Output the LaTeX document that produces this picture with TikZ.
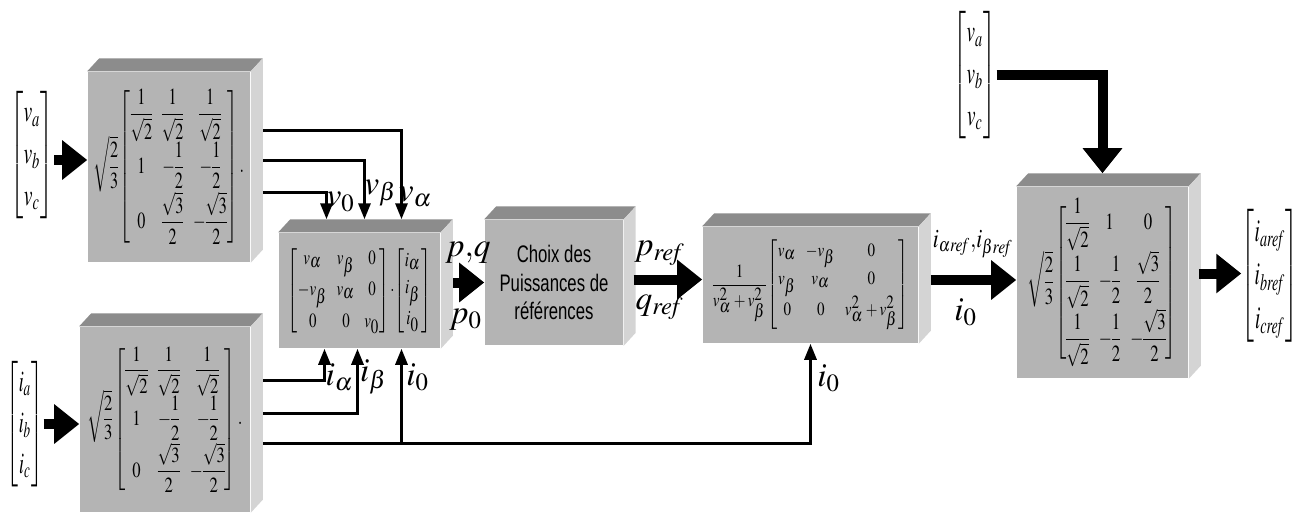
\documentclass[tikz,border=0pt]{standalone}
\usepackage{amsmath}
\usepackage{mathptmx}
\usepackage{graphicx}
\usepackage[no-math]{fontspec}
\usetikzlibrary{arrows.meta}
\newfontfamily\narrowsf[FakeStretch=0.7]{Liberation Sans}
\definecolor{boxfront}{RGB}{180,180,180}
\definecolor{boxtop}{RGB}{140,140,140}
\definecolor{boxside}{RGB}{212,212,212}

\newcommand{\clarkemat}{$\sqrt{\dfrac{2}{3}}\begin{bmatrix}\dfrac{1}{\sqrt{2}} & \dfrac{1}{\sqrt{2}} & \dfrac{1}{\sqrt{2}}\\[2.3pt] 1 & -\dfrac{1}{2} & -\dfrac{1}{2}\\[2.3pt] 0 & \dfrac{\sqrt{3}}{2} & -\dfrac{\sqrt{3}}{2}\end{bmatrix}.$}
\newcommand{\blockfaces}[1]{%
  \fill[boxtop] (#1.north west) -- ++(12,-13) -- ([shift={(12,-13)}]#1.north east) -- (#1.north east) -- cycle;
  \fill[boxside] (#1.north east) -- ([shift={(12,-13)}]#1.north east) -- ([shift={(12,-13)}]#1.south east) -- (#1.south east) -- cycle;}

\begin{document}
\begin{tikzpicture}[x=0.01cm, y=-0.01cm,
  block/.style={rectangle, fill=boxfront, inner sep=0pt, font=\fontsize{5}{6}\selectfont,
    execute at begin node={\setlength{\arraycolsep}{1.5pt}\setlength{\nulldelimiterspace}{0pt}}},
  vect/.style={inner sep=0pt, font=\fontsize{10}{12}\selectfont,
    execute at begin node={\setlength{\arraycolsep}{1.5pt}\renewcommand{\arraystretch}{1.15}}},
  lab/.style={inner sep=0pt, font=\fontsize{9.5}{11}\selectfont},
  bigarrow/.style={line width=0.1cm, -{Triangle[length=0.25cm,width=0.38cm]}},
  sigarrow/.style={line width=0.03cm, -{Triangle[length=0.16cm,width=0.12cm]}}]
\useasboundingbox (0,0) rectangle (1305,520);

\node[block, minimum width=1.62cm, minimum height=1.90cm] (clarkev) at (169,167)
  {\resizebox*{1.50cm}{1.55cm}{\clarkemat}};
\node[block, minimum width=1.70cm, minimum height=1.85cm] (clarkei) at (165,419.5)
  {\resizebox*{1.55cm}{1.45cm}{\clarkemat}};
\node[block, minimum width=1.61cm, minimum height=1.15cm] (pqcalc) at (359.5,290.5)
  {\renewcommand{\arraystretch}{1.1}\resizebox*{1.43cm}{0.89cm}{$\begin{bmatrix} v_\alpha & v_\beta & 0\\ -v_\beta & v_\alpha & 0\\ 0 & 0 & v_0\end{bmatrix}\!\cdot\!\begin{bmatrix} i_\alpha\\ i_\beta\\ i_0\end{bmatrix}$}};
\node[block, minimum width=1.38cm, minimum height=1.25cm, align=center, font={\fontsize{6.8}{8}\selectfont\narrowsf}] (choix) at (554,282.5)
  {Choix des\\Puissances de\\références};
\node[block, minimum width=2.15cm, minimum height=1.16cm] (refcalc) at (810.5,285)
  {\renewcommand{\arraystretch}{1.05}\resizebox*{1.95cm}{0.90cm}{$\dfrac{1}{v_\alpha^2+v_\beta^2}\begin{bmatrix} v_\alpha & -v_\beta & 0\\ v_\beta & v_\alpha & 0\\ 0 & 0 & v_\alpha^2+v_\beta^2\end{bmatrix}$}};
\node[block, minimum width=1.71cm, minimum height=1.91cm] (invclarke) at (1102.5,282.5)
  {\resizebox*{1.49cm}{1.69cm}{$\sqrt{\dfrac{2}{3}}\begin{bmatrix}\dfrac{1}{\sqrt{2}} & 1 & 0\\[1.5pt] \dfrac{1}{\sqrt{2}} & -\dfrac{1}{2} & \dfrac{\sqrt{3}}{2}\\[1.5pt] \dfrac{1}{\sqrt{2}} & -\dfrac{1}{2} & -\dfrac{\sqrt{3}}{2}\end{bmatrix}$}};
\foreach \b in {clarkev,clarkei,pqcalc,choix,refcalc,invclarke}
  \blockfaces{\b};

\node[vect] (vvec) at (32,155) {\resizebox*{0.43cm}{1.27cm}{$\begin{bmatrix} v_a\\ v_b\\ v_c\end{bmatrix}$}};
\node[vect] (ivec) at (25,424) {\resizebox*{0.36cm}{1.25cm}{$\begin{bmatrix} i_a\\ i_b\\ i_c\end{bmatrix}$}};
\node[vect] (vvec2) at (975,75) {\resizebox*{0.42cm}{1.27cm}{$\begin{bmatrix} v_a\\ v_b\\ v_c\end{bmatrix}$}};
\node[vect] (ivecref) at (1270,276) {\resizebox*{0.56cm}{1.33cm}{$\begin{bmatrix} i_{a\mathit{ref}}\\ i_{b\mathit{ref}}\\ i_{c\mathit{ref}}\end{bmatrix}$}};

\draw[bigarrow] ([yshift=-0.05cm]vvec.east) -- ([yshift=-0.05cm]vvec.east -| clarkev.west);
\draw[bigarrow] (ivec.east) -- (ivec.east -| clarkei.west);

\draw[sigarrow] ([shift={(12,-37)}]clarkev.east) -| ([shift={(42,-13)}]pqcalc.north);
\draw[sigarrow] ([shift={(12,-7)}]clarkev.east) -| ([shift={(5,-13)}]pqcalc.north);
\draw[sigarrow] ([shift={(12,25)}]clarkev.east) -| ([shift={(-33,-13)}]pqcalc.north);

\coordinate (izero) at ([shift={(12,24)}]clarkei.east);
\coordinate (ibr) at ([shift={(42,0)}]pqcalc.south);
\draw[sigarrow] ([shift={(12,-39)}]clarkei.east) -| ([shift={(-35,0)}]pqcalc.south);
\draw[sigarrow] ([shift={(12,-6)}]clarkei.east) -| ([shift={(-2,0)}]pqcalc.south);
\draw[sigarrow] (izero) -| (refcalc.south);
\draw[sigarrow] (izero -| ibr) -- (ibr);

\coordinate (pqside) at ([shift={(12,0)}]pqcalc.east);
\draw[bigarrow] (choix.west -| pqside) -- (choix.west);
\coordinate (chside) at ([shift={(10,-3)}]choix.east);
\draw[bigarrow] (chside) -- (chside -| refcalc.west);
\coordinate (rfside) at ([shift={(12,-5)}]refcalc.east);
\draw[bigarrow] (rfside) -- (rfside -| invclarke.west);
\draw[bigarrow] (vvec2.east) -| ([shift={(0,-13)}]invclarke.north);
\coordinate (icside) at ([shift={(10,-9)}]invclarke.east);
\draw[bigarrow] (icside) -- (icside -| ivecref.west);

\node[lab] (lvz) at (341,202) {$v_0$};
\node[lab] (lvb) at (381,193) {$v_\beta$};
\node[lab] (lva) at (416,197) {$v_\alpha$};
\node[lab] (lia) at (340,377) {$i_\alpha$};
\node[lab] (lib) at (374,377) {$i_\beta$};
\node[lab] (liz) at (418,377) {$i_0$};
\node[lab] (lizr) at (829,378) {$i_0$};
\node[lab] (lpq) at (468,253) {$p{,}q$};
\node[lab] (lpz) at (466,320) {$p_0$};
\node[lab] (lpr) at (660,253) {$p_{\mathit{ref}}$};
\node[lab] (lqr) at (660,307) {$q_{\mathit{ref}}$};
\node[lab] (lir) at (973,244) {\resizebox*{0.80cm}{0.27cm}{$i_{\alpha\mathit{ref}}{,}i_{\beta\mathit{ref}}$}};
\node[lab] (lizo) at (966,312) {$i_0$};
\end{tikzpicture}
\end{document}
